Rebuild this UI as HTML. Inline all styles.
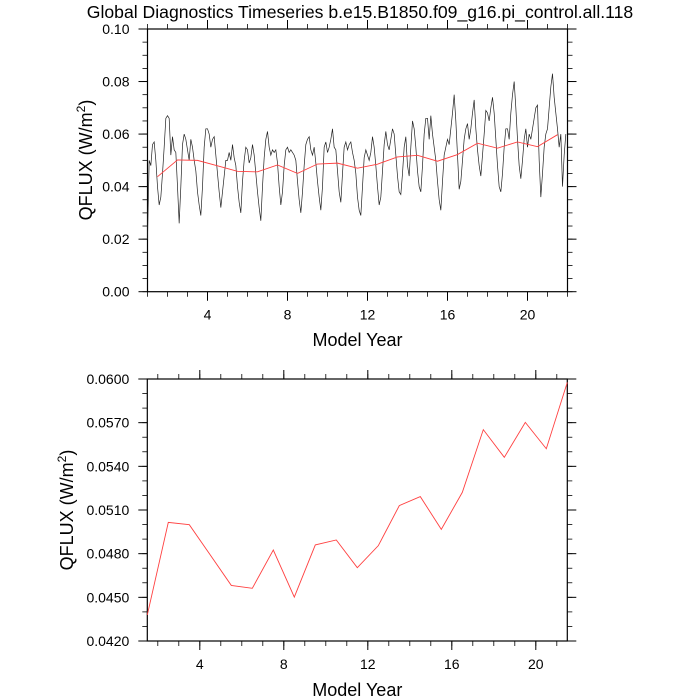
<!DOCTYPE html>
<html><head><meta charset="utf-8"><style>
body{margin:0;background:#fff}
svg{display:block;font-family:"Liberation Sans",sans-serif}
</style></head><body>
<svg id="c" width="700" height="700" viewBox="0 0 700 700">
<text x="360" y="18" text-anchor="middle" font-size="17.6">Global Diagnostics Timeseries b.e15.B1850.f09_g16.pi_control.all.118</text>
</svg>
<script>
const annualYears=[1.5,2.5,3.5,4.5,5.5,6.5,7.5,8.5,9.5,10.5,11.5,12.5,13.5,14.5,15.5,16.5,17.5,18.5,19.5,20.5,21.5];
const annualMeans=[0.04379,0.05015,0.04999,0.04791,0.04582,0.04562,0.04825,0.04502,0.0486,0.04894,0.04704,0.04855,0.0513,0.05192,0.04967,0.05221,0.05652,0.05462,0.05702,0.05521,0.05977];
const monthly=[
0.020,0.050,0.048,0.056,0.057,0.050,0.040,0.033,0.036,0.045,0.055,0.066,
0.067,0.066,0.052,0.059,0.054,0.053,0.040,0.026,0.040,0.056,0.060,0.058,
0.054,0.050,0.058,0.055,0.050,0.046,0.038,0.033,0.029,0.040,0.055,0.062,
0.062,0.060,0.055,0.058,0.059,0.052,0.045,0.038,0.032,0.038,0.044,0.050,
0.050,0.053,0.050,0.056,0.051,0.048,0.040,0.034,0.030,0.042,0.050,0.055,
0.054,0.049,0.051,0.056,0.052,0.045,0.038,0.032,0.027,0.040,0.051,0.058,
0.061,0.055,0.052,0.054,0.053,0.054,0.049,0.040,0.033,0.038,0.048,0.054,
0.055,0.053,0.054,0.053,0.052,0.050,0.042,0.035,0.030,0.038,0.048,0.056,
0.058,0.059,0.054,0.052,0.055,0.049,0.042,0.036,0.031,0.040,0.055,0.057,
0.053,0.055,0.058,0.062,0.055,0.054,0.046,0.038,0.034,0.045,0.055,0.057,
0.054,0.056,0.057,0.053,0.050,0.045,0.036,0.031,0.029,0.040,0.051,0.054,
0.052,0.050,0.053,0.059,0.055,0.048,0.040,0.033,0.036,0.046,0.056,0.061,
0.056,0.054,0.058,0.062,0.060,0.052,0.044,0.038,0.037,0.045,0.055,0.059,
0.048,0.044,0.055,0.065,0.062,0.055,0.046,0.040,0.038,0.048,0.060,0.066,
0.066,0.058,0.067,0.060,0.055,0.050,0.042,0.035,0.031,0.042,0.052,0.055,
0.058,0.056,0.062,0.068,0.075,0.065,0.052,0.039,0.042,0.050,0.058,0.062,
0.064,0.058,0.062,0.068,0.073,0.062,0.054,0.048,0.044,0.052,0.060,0.069,
0.068,0.065,0.070,0.074,0.068,0.058,0.048,0.040,0.038,0.045,0.055,0.062,
0.062,0.058,0.068,0.075,0.080,0.070,0.058,0.048,0.043,0.050,0.058,0.062,
0.055,0.060,0.058,0.062,0.066,0.070,0.071,0.050,0.036,0.045,0.055,0.060,
0.062,0.070,0.078,0.083,0.074,0.068,0.062,0.055,0.060,0.040,0.052,0.060];
const topXTicks=[4,8,12,16,20];
const topYTicks=[0,0.02,0.04,0.06,0.08,0.10];
const botXTicks=[4,8,12,16,20];
const botYTicks=[0.042,0.045,0.048,0.051,0.054,0.057,0.060];

const svg=document.getElementById('c');
const NS='http://www.w3.org/2000/svg';
function mk(tag,at){const e=document.createElementNS(NS,tag);for(const k in at)e.setAttribute(k,at[k]);svg.appendChild(e);return e;}
function lin(d0,d1,r0,r1){return v=>r0+(v-d0)/(d1-d0)*(r1-r0);}

function panel(p){
  const {L,R,T,B,sx,sy,xt,yt,xminor,yminor,yfmt,name,ylabX,ylabY,xlabY}=p;
  const frame=mk('rect',{x:L,y:T,width:R-L,height:B-T,fill:'none',stroke:'#000','stroke-width':1.2});
  
  
  xminor.forEach(v=>{const x=sx(v);
    mk('line',{x1:x,x2:x,y1:B,y2:B+5,stroke:'#000','stroke-width':0.8});
    mk('line',{x1:x,x2:x,y1:T,y2:T-5,stroke:'#000','stroke-width':0.8});});
  yminor.forEach(v=>{const y=sy(v);
    mk('line',{x1:L,x2:L-5,y1:y,y2:y,stroke:'#000','stroke-width':0.8});
    mk('line',{x1:R,x2:R+5,y1:y,y2:y,stroke:'#000','stroke-width':0.8});});
  xt.forEach(v=>{const x=sx(v);
    mk('line',{x1:x,x2:x,y1:B,y2:B+9,stroke:'#000','stroke-width':1});
    mk('line',{x1:x,x2:x,y1:T,y2:T-9,stroke:'#000','stroke-width':1});
    const t=mk('text',{x:x,y:B+28,'text-anchor':'middle','font-size':14});t.textContent=v;
    
    });
  yt.forEach(v=>{const y=sy(v);
    mk('line',{x1:L,x2:L-9,y1:y,y2:y,stroke:'#000','stroke-width':1});
    mk('line',{x1:R,x2:R+9,y1:y,y2:y,stroke:'#000','stroke-width':1});
    const t=mk('text',{x:L-18,y:y+5,'text-anchor':'end','font-size':14});t.textContent=v.toFixed(yfmt);
    
    });
  const xl=mk('text',{x:(L+R)/2,y:xlabY,'text-anchor':'middle','font-size':18});xl.textContent='Model Year';
  
  
  const yl=mk('text',{x:0,y:0,'text-anchor':'middle','font-size':18,transform:`translate(${ylabX},${ylabY}) rotate(-90)`});
  yl.innerHTML='QFLUX (W/m<tspan font-size="12" dy="-7">2</tspan><tspan dy="7">)</tspan>';
  
  
}
function rng(a,b,s){const r=[];for(let v=a;v<=b+1e-9;v+=s)r.push(+v.toFixed(6));return r;}

// top panel
const tL=147.5,tR=567.5,tT=29,tB=291.7;
const tsx=lin(1,22,tL,tR), tsy=lin(0,0.1,tB,tT);
panel({L:tL,R:tR,T:tT,B:tB,sx:tsx,sy:tsy,xt:topXTicks,yt:topYTicks,xminor:rng(1,22,1),yminor:rng(0,0.1,0.005),yfmt:2,name:'top',ylabX:92,ylabY:160,xlabY:346});
const mp=monthly.map((v,i)=>tsx(1+i/12).toFixed(2)+','+tsy(v).toFixed(2)).join(' ');
const ml=mk('polyline',{points:mp,fill:'none',stroke:'#222','stroke-width':0.7});


const ap=annualMeans.map((v,i)=>tsx(annualYears[i]).toFixed(2)+','+tsy(v).toFixed(2)).join(' ');
const al=mk('polyline',{points:ap,fill:'none',stroke:'#ff4040','stroke-width':0.9});



// bottom panel
const bL=147.3,bR=567.3,bT=379,bB=641;
const bsx=lin(1.5,21.5,bL,bR), bsy=lin(0.042,0.060,bB,bT);
panel({L:bL,R:bR,T:bT,B:bB,sx:bsx,sy:bsy,xt:botXTicks,yt:botYTicks,xminor:rng(2,21,1),yminor:rng(0.042,0.060,0.001),yfmt:4,name:'bottom',ylabX:73,ylabY:510,xlabY:696});
const bp=annualMeans.map((v,i)=>bsx(annualYears[i]).toFixed(2)+','+bsy(v).toFixed(2)).join(' ');
const bl=mk('polyline',{points:bp,fill:'none',stroke:'#ff4040','stroke-width':0.9});


</script>
</body></html>
